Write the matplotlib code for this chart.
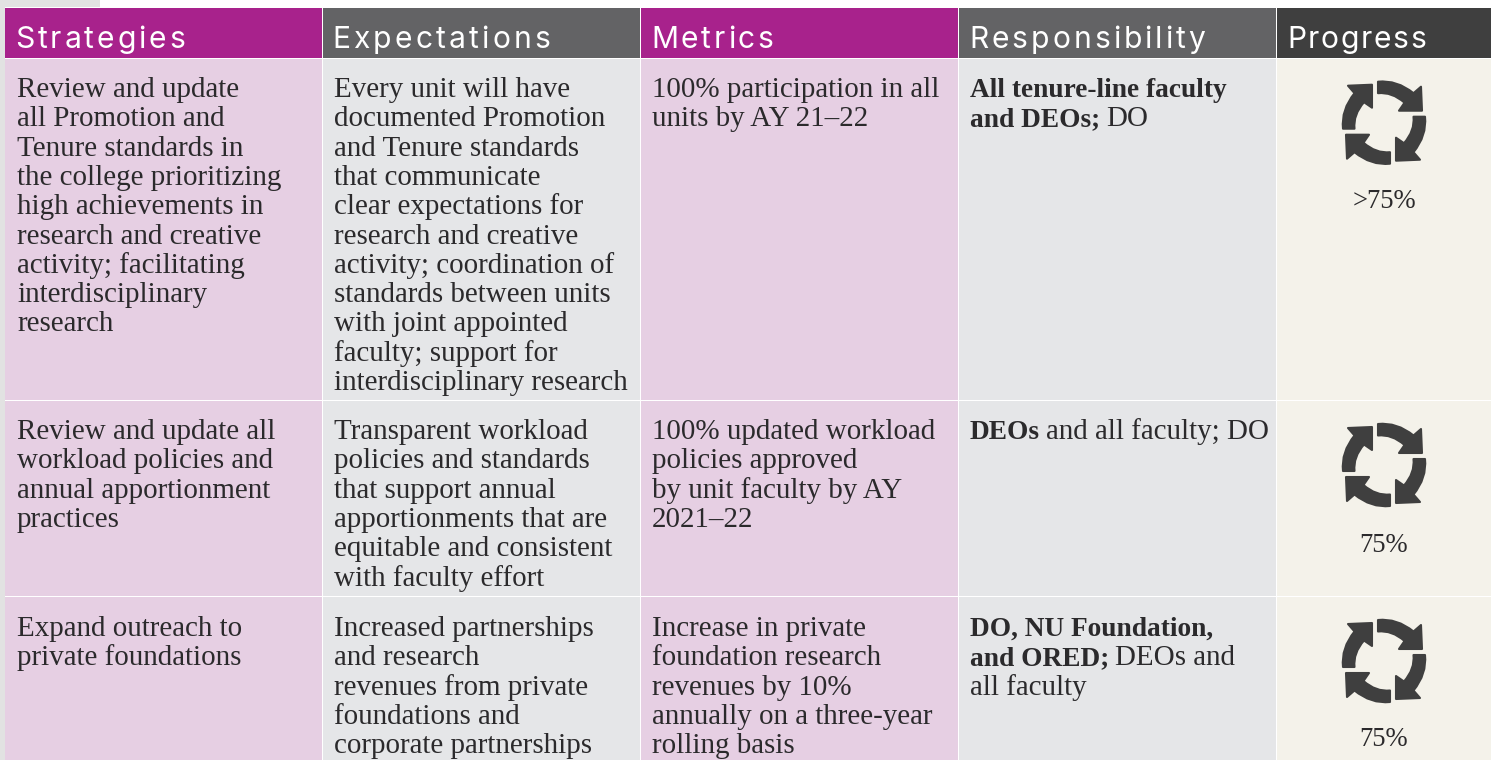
import matplotlib
matplotlib.use('Agg')
import matplotlib.pyplot as plt
from matplotlib.patches import Rectangle, PathPatch
from matplotlib.path import Path
from matplotlib.text import Text
import numpy as np

headers = ['Strategies', 'Expectations', 'Metrics', 'Responsibility', 'Progress']

strategies = [
    ['Review and update', 'all Promotion and', 'Tenure standards in', 'the college prioritizing',
     'high achievements in', 'research and creative', 'activity; facilitating', 'interdisciplinary', 'research'],
    ['Review and update all', 'workload policies and', 'annual apportionment', 'practices'],
    ['Expand outreach to', 'private foundations'],
]
expectations = [
    ['Every unit will have', 'documented Promotion', 'and Tenure standards', 'that communicate',
     'clear expectations for', 'research and creative', 'activity; coordination of', 'standards between units',
     'with joint appointed', 'faculty; support for', 'interdisciplinary research'],
    ['Transparent workload', 'policies and standards', 'that support annual', 'apportionments that are',
     'equitable and consistent', 'with faculty effort'],
    ['Increased partnerships', 'and research', 'revenues from private', 'foundations and', 'corporate partnerships'],
]
metrics = [
    ['100% participation in all', 'units by AY 21\u201322'],
    ['100% updated workload', 'policies approved', 'by unit faculty by AY', '2021\u201322'],
    ['Increase in private', 'foundation research', 'revenues by 10%', 'annually on a three-year', 'rolling basis'],
]
# (bold part, regular part) for each line
responsibility = [
    [('All tenure-line faculty', ''), ('and DEOs;', ' DO')],
    [('DEOs', ' and all faculty; DO')],
    [('DO, NU Foundation,', ''), ('and ORED;', ' DEOs and'), ('', 'all faculty')],
]
progress = ['>75%', '75%', '75%']

# layout, in pixels of the picture
col_left = [5, 323, 641, 959, 1277]
col_right = [322, 640, 958, 1276, 1491]
row_top = [59, 401, 597]
row_bottom = [400, 596, 760]
text_x = [17, 334, 652, 970]
header_x = [15, 332, 651, 969, 1287]
header_spacing = [2.9, 3.2, 2.8, 3.0, 1.6]
first_baseline = [97, 439, 636]
line_h = 29.3
icon_y = [122.7, 465, 661]
pct_y = [207.5, 552, 746]

PURPLE = '#a8228c'
GREY = '#636365'
DARK = '#3f3f3f'
PINK = '#e6cfe3'
LIGHT = '#e5e6e8'
CREAM = '#f4f2ea'
INK = '#2b2a2c'
header_colors = [PURPLE, GREY, PURPLE, GREY, DARK]
cell_colors = [PINK, LIGHT, PINK, LIGHT, CREAM]

BODY = 20.9
BOLD = 19.7


class SpacedText(Text):
    # one string, drawn letter by letter with some tracking
    spacing = 0

    def draw(self, renderer):
        whole = self.get_text()
        x0 = self.get_position()[0]
        prop = self.get_fontproperties()
        for i, ch in enumerate(whole):
            w = renderer.get_text_width_height_descent(whole[:i], prop, False)[0] if i else 0
            self.set_text(ch)
            self.set_x(x0 + w + i * self.spacing)
            super().draw(renderer)
        self.set_text(whole)
        self.set_x(x0)


fig = plt.figure(figsize=(14.94, 7.6), dpi=100, facecolor='white')
ax = fig.add_axes([0, 0, 1, 1])
ax.set_xlim(0, 1494)
ax.set_ylim(760, 0)
ax.axis('off')

# grey page behind the table
ax.add_patch(Rectangle((0, 0), 4.5, 760, fc='#e2e2e2', ec='none'))
ax.add_patch(Rectangle((0, 0), 100, 6.5, fc='#e2e2e2', ec='none'))

for c in range(5):
    ax.add_patch(Rectangle((col_left[c], 8), col_right[c] - col_left[c], 49.5, fc=header_colors[c], ec='none'))
    t = SpacedText(header_x[c], 48, headers[c], color='white', family='Inter', fontsize=21.6, va='baseline')
    t.spacing = header_spacing[c]
    ax.add_artist(t)
    for r in range(3):
        ax.add_patch(Rectangle((col_left[c], row_top[r]), col_right[c] - col_left[c],
                               row_bottom[r] - row_top[r], fc=cell_colors[c], ec='none'))


def arrow_path(k, cx, cy):
    verts = np.array([(-6, -41), (13, -43), (29.5, -29.5), (37, -36), (38, -12), (15, -12),
                      (20.5, -20), (8, -31), (-6, -29.5), (-6, -41)], float)
    codes = [Path.MOVETO, Path.CURVE3, Path.CURVE3, Path.LINETO, Path.LINETO, Path.LINETO,
             Path.LINETO, Path.CURVE3, Path.CURVE3, Path.CLOSEPOLY]
    a = np.pi / 2 * k
    rot = np.array([[np.cos(a), -np.sin(a)], [np.sin(a), np.cos(a)]])
    return Path(verts @ rot.T + [cx, cy], codes)


for r in range(3):
    for c, col in enumerate([strategies, expectations, metrics]):
        for i, line in enumerate(col[r]):
            ax.text(text_x[c], first_baseline[r] + i * line_h, line, color=INK,
                    family='Liberation Serif', fontsize=BODY, va='baseline')
    for i, (bold, regular) in enumerate(responsibility[r]):
        x = text_x[3]
        y = first_baseline[r] + i * line_h
        if bold:
            t = ax.text(x, y, bold, color=INK, family='Liberation Serif', weight='bold',
                        fontsize=BOLD, va='baseline')
            ext = t.get_window_extent(fig.canvas.get_renderer())
            x = ext.x1 + (6 if regular else 0)
            regular = regular.strip()
        if regular:
            ax.text(x, y, regular, color=INK, family='Liberation Serif', fontsize=BODY, va='baseline')
    for k in range(4):
        ax.add_patch(PathPatch(arrow_path(k, 1384, icon_y[r]), fc=DARK, ec=DARK, lw=1.5, joinstyle='round'))
    ax.text(1384, pct_y[r], progress[r], color=INK, family='Liberation Serif', fontsize=19.2,
            ha='center', va='baseline')

fig.savefig('out.png', dpi=100)
